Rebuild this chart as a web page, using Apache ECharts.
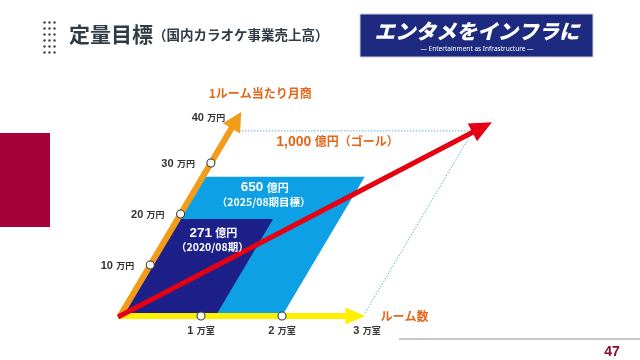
<!DOCTYPE html>
<html><head><meta charset="utf-8">
<script src="https://cdn.jsdelivr.net/npm/echarts@6/dist/echarts.min.js"></script>
<style>html,body{margin:0;padding:0;background:#fff}#c{width:640px;height:360px}</style>
</head><body><div id="c"></div>
<script>
// ---- data ----
const roomTicks = [1, 2, 3];              // 万室
const roomMarkers = [1, 2];               // circles on room axis
const revenueTicks = [10, 20, 30, 40];    // 万円
const revenueMarkers = [10, 20, 30];      // circles on revenue axis
const roomAxisEnd = 3.03;
const revenueAxisEnd = 40;
const stageLabels = ['（2020/08期）', '（2025/08期目標）', '（ゴール）'];
const stageRooms = [1.18, 2.0, 3.0];      // 万室
const stageRevenue = [19, 27.3, 36.3];    // 万円 / room / month
const stageSales = [271, 650, 1000];      // 億円
const trendEnd = [3.17, 38];

// ---- style constants ----
const SHEAR = 3.03 / 81;
const JP = '"Noto Sans CJK JP","Noto Sans",sans-serif';
const ORANGE = '#f29c18', YELLOW = '#fff000', RED = '#e50012';
const LIGHT = '#0ea0e4', DARK = '#1d2088', ORANGE_TXT = '#e2671a';

function P(api, r, m) { return api.coord([r + SHEAR * m, m]); }
function arrow(p0, p1, w, hl, hw, color) {
  const dx = p1[0] - p0[0], dy = p1[1] - p0[1], L = Math.hypot(dx, dy);
  const ux = dx / L, uy = dy / L, nx = -uy, ny = ux;
  const b = [p1[0] - ux * hl, p1[1] - uy * hl];
  const lb = [p1[0] - ux * (hl - 2), p1[1] - uy * (hl - 2)];
  return [
    { type: 'line', shape: { x1: p0[0], y1: p0[1], x2: lb[0], y2: lb[1] }, style: { stroke: color, lineWidth: w } },
    { type: 'polygon', shape: { points: [p1, [b[0] + nx * hw, b[1] + ny * hw], [b[0] - nx * hw, b[1] - ny * hw]] }, style: { fill: color } }
  ];
}

const stageData = stageRooms.map((r, i) => [r, stageRevenue[i], stageSales[i], i]).reverse();

const option = {
  animation: false,
  grid: { left: 120, right: 196, top: 112, bottom: 44 },
  xAxis: { type: 'value', min: 0, max: 4, show: false },
  yAxis: { type: 'value', min: 0, max: 40, show: false },
  graphic: [
    // red side block
    { type: 'rect', shape: { x: 0, y: 133, width: 50, height: 94 }, style: { fill: '#a5023a' } },
    // dots
    ...[0,1,2,3,4,5].flatMap(rw => [0,1,2].map(cl => ({ type: 'circle', shape: { cx: 44.5 + cl * 5, cy: 22.5 + rw * 6, r: 1.2 }, style: { fill: '#3a4650' } }))),
    { type: 'text', x: 69, y: 34, style: { text: '定量目標', font: 'bold 21px ' + JP, fill: '#2f3c46', verticalAlign: 'middle' } },
    { type: 'text', x: 153, y: 35, style: { text: '（国内カラオケ事業売上高）', font: 'bold 13.5px ' + JP, fill: '#2f3c46', verticalAlign: 'middle' } },
    // logo
    { type: 'rect', shape: { x: 360, y: 14, width: 233, height: 43 }, style: { fill: '#1e2a80', stroke: '#d0d0d8', lineWidth: 1 } },
    { type: 'text', x: 477, y: 31, style: { text: 'エンタメをインフラに', font: 'italic 900 20.5px ' + JP, fill: '#fff', align: 'center', verticalAlign: 'middle' } },
    { type: 'text', x: 477, y: 49.5, style: { text: '— Entertainment as Infrastructure —', font: '6.5px "Noto Sans",sans-serif', fill: '#fff', align: 'center', verticalAlign: 'middle' } },
    // footer
    { type: 'line', shape: { x1: 399, y1: 339, x2: 640, y2: 339 }, style: { stroke: '#b4b4b4', lineWidth: 1.5 } },
    { type: 'text', x: 612, y: 352, style: { text: '47', font: 'bold 14px "Liberation Sans",sans-serif', fill: '#8a0c2e', align: 'center', verticalAlign: 'middle' } }
  ],
  series: [
    { // stage parallelograms
      type: 'custom', clip: false, z: 1,
      data: stageData,
      renderItem: (params, api) => {
        const r = api.value(0), m = api.value(1), idx = api.value(3);
        const a = P(api, 0, 0), b = P(api, r, 0), c = P(api, r, m), d = P(api, 0, m);
        if (idx === 2) {
          return { type: 'polyline', shape: { points: [[d[0] + 6, d[1]], c, [b[0] + 2, b[1] - 3]] },
            style: { stroke: '#5fb4dc', lineWidth: 1, lineDash: [1.5, 1.5], fill: null } };
        }
        return { type: 'polygon', shape: { points: [a, b, c, d] }, style: { fill: idx === 0 ? DARK : LIGHT } };
      }
    },
    { // axes arrows
      type: 'custom', clip: false, z: 2,
      data: [[roomAxisEnd, 0, 0], [0, revenueAxisEnd, 1]],
      renderItem: (params, api) => {
        const o = P(api, 0, 0), e = P(api, api.value(0), api.value(1));
        const isRev = api.value(2) === 1;
        return { type: 'group', children: isRev ? arrow(o, e, 6, 19, 10, ORANGE) : arrow([o[0] - 2, o[1]], e, 6, 20, 8.5, YELLOW) };
      }
    },
    { // marker circles
      type: 'custom', clip: false, z: 3,
      data: roomMarkers.map(r => [r, 0]).concat(revenueMarkers.map(m => [0, m])),
      renderItem: (params, api) => {
        const p = P(api, api.value(0), api.value(1));
        return { type: 'circle', shape: { cx: p[0], cy: p[1], r: 4 }, style: { fill: '#fff', stroke: '#3c3c3c', lineWidth: 1.1 } };
      }
    },
    { // trend arrow
      type: 'custom', clip: false, z: 4,
      data: [[trendEnd[0], trendEnd[1]]],
      renderItem: (params, api) => {
        const o = P(api, 0, 0), e = P(api, api.value(0), api.value(1));
        return { type: 'group', children: arrow([o[0] - 2, o[1] + 1], e, 5, 22, 10, RED) };
      }
    },
    { // tick labels
      type: 'custom', clip: false, z: 5,
      data: roomTicks.map(r => [r, 0, 0]).concat(revenueTicks.map(m => [0, m, 1])),
      renderItem: (params, api) => {
        const r = api.value(0), m = api.value(1), isRev = api.value(2) === 1;
        const p = P(api, r, m);
        const rich = { a: { font: 'bold 11px "Liberation Sans",sans-serif', fill: '#333' }, b: { font: 'bold 9px ' + JP, fill: '#333' } };
        if (isRev) {
          return { type: 'text', x: p[0] - 16, y: p[1] + (m === revenueAxisEnd ? 6 : 1),
            style: { text: '{a|' + m + '} {b|万円}', rich, align: 'right', verticalAlign: 'middle' } };
        }
        return { type: 'text', x: p[0] + (r === 3 ? 4 : 0), y: p[1] + 15,
          style: { text: '{a|' + r + '} {b|万室}', rich, align: 'center', verticalAlign: 'middle' } };
      }
    },
    { // stage labels
      type: 'custom', clip: false, z: 6,
      data: stageData,
      renderItem: (params, api) => {
        const r = api.value(0), m = api.value(1), s = api.value(2), idx = api.value(3);
        const t = P(api, r / 2, m);
        const num = s.toLocaleString('en-US');
        if (idx === 2) {
          return { type: 'text', x: t[0] - 14, y: t[1] + 11,
            style: { text: '{a|' + num + '} {b|億円' + stageLabels[idx] + '}', align: 'center', verticalAlign: 'middle',
              rich: { a: { font: 'bold 14px "Liberation Sans",sans-serif', fill: ORANGE_TXT }, b: { font: 'bold 12px ' + JP, fill: ORANGE_TXT } } } };
        }
        const dx = idx === 1 ? -19 : -12, dy = idx === 1 ? 11 : 14;
        return { type: 'group', children: [
          { type: 'text', x: t[0] + dx, y: t[1] + dy,
            style: { text: '{a|' + num + '} {b|億円}', align: 'center', verticalAlign: 'middle',
              rich: { a: { font: 'bold 13.5px "Liberation Sans",sans-serif', fill: '#fff' }, b: { font: 'bold 11px ' + JP, fill: '#fff' } } } },
          { type: 'text', x: t[0] + dx - 1, y: t[1] + dy + 14,
            style: { text: stageLabels[idx], font: 'bold 10.5px ' + JP, fill: '#fff', align: 'center', verticalAlign: 'middle' } }
        ] };
      }
    },
    { // axis titles
      type: 'custom', clip: false, z: 6,
      data: [[0, revenueAxisEnd, 1], [roomAxisEnd, 0, 0]],
      renderItem: (params, api) => {
        const p = P(api, api.value(0), api.value(1));
        if (api.value(2) === 1) {
          return { type: 'text', x: p[0] + 19, y: p[1] - 19, style: { text: '1ルーム当たり月商', font: 'bold 12px ' + JP, fill: ORANGE_TXT, align: 'center', verticalAlign: 'middle' } };
        }
        return { type: 'text', x: p[0] + 15, y: p[1], style: { text: 'ルーム数', font: 'bold 12px ' + JP, fill: ORANGE_TXT, align: 'left', verticalAlign: 'middle' } };
      }
    }
  ]
};
const chart = echarts.init(document.getElementById('c'), null, { renderer: 'canvas' });
chart.setOption(option);
</script></body></html>
